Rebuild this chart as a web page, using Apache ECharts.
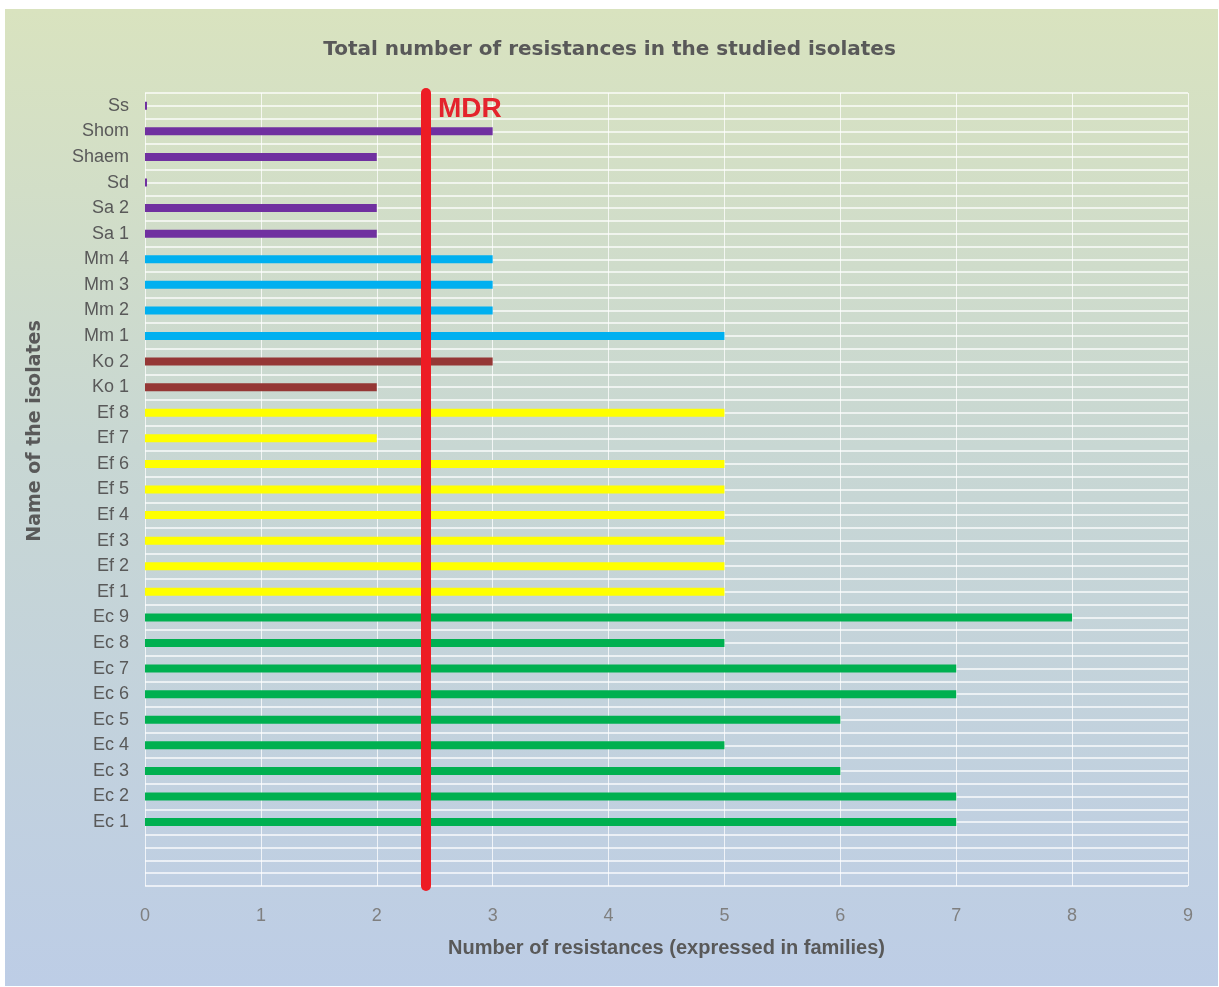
<!DOCTYPE html>
<html><head><meta charset="utf-8">
<script src="https://cdn.jsdelivr.net/npm/echarts@6/dist/echarts.min.js"></script>
<style>html,body{margin:0;padding:0;background:#fff}#c{width:1219px;height:987px}</style>
</head><body><div id="c"></div>
<script>
// Isolates, bottom to top (two empty rows below Ec 1 as in the original)
const categories = ['', '', 'Ec 1','Ec 2','Ec 3','Ec 4','Ec 5','Ec 6','Ec 7','Ec 8','Ec 9',
  'Ef 1','Ef 2','Ef 3','Ef 4','Ef 5','Ef 6','Ef 7','Ef 8','Ko 1','Ko 2',
  'Mm 1','Mm 2','Mm 3','Mm 4','Sa 1','Sa 2','Sd','Shaem','Shom','Ss'];
const resistances = ['-', '-', 7,7,6,5,6,7,7,5,8,
  5,5,5,5,5,5,2,5,2,3,
  5,3,3,3,2,2,0,2,3,0];
const mdrThreshold = 2.42;
const xTickMin = 0, xTickMax = 9;

const groupColors = { Ec:'#00B050', Ef:'#FFFF00', Ko:'#953735', Mm:'#00B0F0', S:'#7030A0' };
function colorFor(name){
  if (name.startsWith('Ec')) return groupColors.Ec;
  if (name.startsWith('Ef')) return groupColors.Ef;
  if (name.startsWith('Ko')) return groupColors.Ko;
  if (name.startsWith('Mm')) return groupColors.Mm;
  return groupColors.S;
}
const NARROW = "'Liberation Sans Narrow','Arial Narrow','Liberation Sans',sans-serif";

const chart = echarts.init(document.getElementById('c'), null, {renderer:'canvas'});
chart.setOption({
  backgroundColor: '#ffffff',
  animation: false,
  graphic: [
    { type:'rect', z:-100, silent:true, shape:{x:5,y:9,width:1213,height:977},
      style:{ fill: new echarts.graphic.LinearGradient(0,0,0,1,[
        {offset:0,color:'#D9E3BF'},{offset:0.45,color:'#C8D7D3'},{offset:1,color:'#BDCDE6'}]) } },
    { type:'text', z:10, silent:true, x:35, y:431, rotation:Math.PI/2,
      style:{ text:'Name of the isolates', font:"bold 19px 'DejaVu Sans',sans-serif",
        fill:'#595959', textAlign:'center', textVerticalAlign:'middle' } }
  ],
  title: {
    text: 'Total number of resistances in the studied isolates',
    left: 'center', top: 35,
    textStyle: { color:'#595959', fontSize:20, fontWeight:'bold', fontFamily:"'DejaVu Sans',sans-serif" }
  },
  grid: { left:145, right:31, top:93, bottom:101, containLabel:false },
  xAxis: {
    type:'value', min:xTickMin, max:xTickMax, interval:1,
    axisLine:{show:false}, axisTick:{show:false},
    axisLabel:{ color:'#7F7F7F', fontSize:18, fontFamily:NARROW, margin:21 },
    splitLine:{ show:true, lineStyle:{ color:'rgba(255,255,255,0.75)', width:1 } },
    name:'Number of resistances (expressed in families)', nameLocation:'middle', nameGap:52,
    nameTextStyle:{ color:'#595959', fontSize:20, fontWeight:'bold', fontFamily:NARROW }
  },
  yAxis: [
    { type:'category', data:categories,
      axisLine:{show:false}, axisTick:{show:false},
      axisLabel:{ color:'#595959', fontSize:18, fontFamily:NARROW, margin:16, interval:0 },
      splitLine:{show:false} },
    { type:'value', min:0, max:categories.length, interval:0.5, position:'right',
      axisLine:{show:false}, axisTick:{show:false}, axisLabel:{show:false},
      splitLine:{ show:true, lineStyle:{ color:'rgba(255,255,255,0.9)', width:1.5 } } }
  ],
  series: [{
    type:'bar', yAxisIndex:0, data:resistances, barWidth:8, barMinHeight:2,
    itemStyle:{ color: p => colorFor(p.name) },
    markLine:{
      silent:true, symbol:['none','none'],
      label:{show:false},
      lineStyle:{ color:'#ED1C24', width:10, type:'solid', cap:'round' },
      data:[{ xAxis: mdrThreshold }]
    },
    markPoint:{
      silent:true, symbol:'circle', symbolSize:1,
      itemStyle:{ color:'rgba(0,0,0,0)' },
      label:{ show:true, position:'right', formatter:'MDR', distance:0, offset:[12,3],
        color:'#E4232C', fontSize:28, fontWeight:'bold', fontFamily:NARROW },
      data:[{ coord:[mdrThreshold, 'Ss'] }]
    }
  }]
});
</script></body></html>
